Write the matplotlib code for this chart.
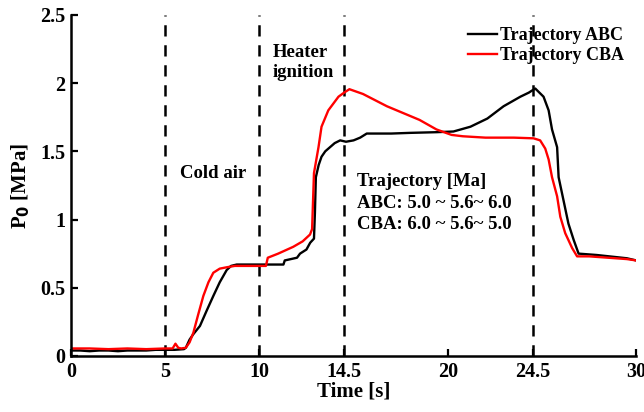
import matplotlib
matplotlib.use("Agg")
import matplotlib.pyplot as plt

plt.rcParams["font.family"] = ["Liberation Serif", "DejaVu Serif"]
plt.rcParams["font.weight"] = "bold"

# Trajectory ABC (black)
t_abc = [0, 0.5, 1, 1.5, 2, 2.5, 3, 3.5, 4, 4.5, 5, 5.5, 6.0, 6.1, 6.3, 6.5,
         6.85, 7.2, 7.56, 7.9, 8.27, 8.5, 8.8, 9.5, 10.5, 11.28, 11.35, 12.0,
         12.16, 12.5, 12.7, 12.9, 12.95, 13.0, 13.15, 13.3, 13.5, 13.75, 14.0,
         14.29, 14.6, 15.0, 15.35, 15.7, 16.0, 17.0, 18.0, 19.4, 20.3, 21.2,
         22.1, 22.96, 23.85, 24.3, 24.64, 25.08, 25.35, 25.53, 25.8, 25.88,
         26.14, 26.4, 26.68, 26.94, 27.9, 29.5, 30]
p_abc = [0.04, 0.04, 0.035, 0.04, 0.04, 0.035, 0.04, 0.04, 0.04, 0.045, 0.045,
         0.045, 0.05, 0.06, 0.12, 0.16, 0.22, 0.33, 0.44, 0.54, 0.63, 0.66,
         0.67, 0.67, 0.67, 0.67, 0.70, 0.72, 0.75, 0.78, 0.83, 0.86, 1.05,
         1.31, 1.40, 1.46, 1.50, 1.53, 1.56, 1.58, 1.57, 1.58, 1.60, 1.63,
         1.63, 1.63, 1.635, 1.64, 1.645, 1.68, 1.74, 1.83, 1.90, 1.93, 1.96,
         1.90, 1.80, 1.66, 1.53, 1.31, 1.14, 0.97, 0.85, 0.75, 0.74, 0.716,
         0.70]

# Trajectory CBA (red)
t_cba = [0, 1, 2, 3, 4, 5, 5.4, 5.55, 5.7, 5.85, 6.1, 6.3, 6.5, 6.75, 7.03,
         7.3, 7.56, 7.9, 8.27, 8.7, 9.5, 10.35, 10.45, 11.0, 11.8, 12.3, 12.69,
         12.8, 12.9, 13.14, 13.3, 13.66, 14.2, 14.5, 14.78, 15.5, 16.77, 18.5,
         19.4, 20.2, 20.8, 22.0, 23.5, 24.55, 24.9, 25.17, 25.35, 25.53, 25.8,
         25.97, 26.23, 26.6, 26.86, 27.5, 28.5, 29.5, 30]
p_cba = [0.055, 0.055, 0.05, 0.055, 0.05, 0.055, 0.055, 0.09, 0.06, 0.055,
         0.06, 0.1, 0.17, 0.30, 0.44, 0.54, 0.61, 0.64, 0.65, 0.66, 0.66, 0.66,
         0.72, 0.75, 0.80, 0.84, 0.89, 0.93, 1.34, 1.53, 1.68, 1.80, 1.90,
         1.93, 1.955, 1.92, 1.83, 1.73, 1.66, 1.62, 1.61, 1.60, 1.60, 1.595,
         1.58, 1.52, 1.44, 1.31, 1.17, 1.02, 0.90, 0.79, 0.73, 0.73, 0.72,
         0.71, 0.70]

event_times = [5, 10, 14.5, 24.5]
x_ticks = [0, 5, 10, 14.5, 20, 24.5, 30]
x_labels = ["0", "5", "10", "14.5", "20", "24.5", "30"]
y_ticks = [0, 0.5, 1, 1.5, 2, 2.5]
y_labels = ["0", "0.5", "1", "1.5", "2", "2.5"]

fig = plt.figure(figsize=(6.44, 4.12), dpi=100)
ax = fig.add_axes([0.110, 0.136, 0.878, 0.828])

for t in event_times:
    ax.plot([t, t], [0, 2.5], color="black", lw=1.8, ls=(0, (4.5, 3.5)))

ax.plot(t_abc, p_abc, color="black", lw=1.7, label="Trajectory ABC")
ax.plot(t_cba, p_cba, color="red", lw=1.7, label="Trajectory CBA")

ax.set_xlim(0, 30)
ax.set_ylim(0, 2.5)
ax.set_xticks(x_ticks)
ax.set_xticklabels(x_labels)
ax.set_yticks(y_ticks)
ax.set_yticklabels(y_labels)
ax.tick_params(direction="in", length=5, width=1.6, labelsize=14.5, pad=4)
for s in ["top", "right"]:
    ax.spines[s].set_visible(False)
for s in ["left", "bottom"]:
    ax.spines[s].set_linewidth(1.8)

ax.set_xlabel("Time [s]", fontsize=15, fontweight="bold", labelpad=0)
ax.set_ylabel(r"P$_\mathbf{0}$ [MPa]", fontsize=15, fontweight="bold", labelpad=6)

ax.text(5.8, 1.34, "Cold air", fontsize=13.5, va="center")
ax.text(10.7, 2.15, "Heater\nignition", fontsize=13.5, va="center", linespacing=1.25)
ax.text(15.2, 1.28, "Trajectory [Ma]", fontsize=13.5, va="center")
ax.text(15.2, 1.12, "ABC: 5.0 ~ 5.6~ 6.0", fontsize=13.5, va="center")
ax.text(15.2, 0.96, "CBA: 6.0 ~ 5.6~ 5.0", fontsize=13.5, va="center")

ax.legend(loc="upper right", bbox_to_anchor=(1.0, 1.0), frameon=False,
          fontsize=13, handlelength=1.6, handletextpad=0.15, labelspacing=0.15,
          borderaxespad=0.3)

fig.savefig("out.png", dpi=100)
